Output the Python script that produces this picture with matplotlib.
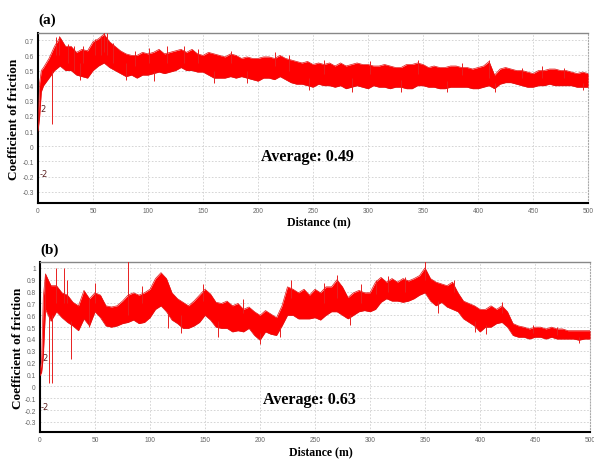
import matplotlib.pyplot as plt
import numpy as np

# Panel (a): band of the friction trace, read every 5 m (upper / lower edge)
dist_a = [0, 1.5, 3] + list(range(5, 501, 5))
upper_a = [0.13, 0.42, 0.50,
           0.52, 0.58, 0.66, 0.72, 0.66, 0.66, 0.62, 0.64, 0.63, 0.69,
           0.71, 0.74, 0.69, 0.66, 0.63, 0.61, 0.60, 0.60, 0.62, 0.61,
           0.62, 0.64, 0.61, 0.62, 0.63, 0.64, 0.62, 0.64, 0.61, 0.60,
           0.62, 0.61, 0.60, 0.59, 0.61, 0.60, 0.58, 0.59, 0.58, 0.58,
           0.59, 0.59, 0.58, 0.60, 0.58, 0.57, 0.56, 0.55, 0.56, 0.54,
           0.55, 0.54, 0.55, 0.53, 0.55, 0.53, 0.54, 0.55, 0.54, 0.54,
           0.53, 0.53, 0.54, 0.53, 0.52, 0.52, 0.54, 0.54, 0.55, 0.54,
           0.52, 0.53, 0.52, 0.52, 0.53, 0.53, 0.52, 0.52, 0.51, 0.52,
           0.53, 0.56, 0.47, 0.51, 0.52, 0.51, 0.50, 0.50, 0.49, 0.48,
           0.50, 0.50, 0.51, 0.51, 0.50, 0.50, 0.49, 0.48, 0.49, 0.48]
lower_a = [0.10, 0.20, 0.36,
           0.40, 0.45, 0.50, 0.53, 0.50, 0.50, 0.47, 0.46, 0.45, 0.50,
           0.53, 0.55, 0.52, 0.50, 0.48, 0.46, 0.47, 0.45, 0.47, 0.47,
           0.48, 0.49, 0.48, 0.49, 0.50, 0.52, 0.50, 0.50, 0.49, 0.49,
           0.47, 0.45, 0.45, 0.45, 0.46, 0.45, 0.46, 0.45, 0.44, 0.43,
           0.45, 0.45, 0.44, 0.46, 0.44, 0.42, 0.41, 0.41, 0.40, 0.39,
           0.41, 0.40, 0.40, 0.39, 0.40, 0.38, 0.39, 0.40, 0.39, 0.38,
           0.40, 0.39, 0.39, 0.38, 0.39, 0.39, 0.38, 0.38, 0.40, 0.40,
           0.39, 0.39, 0.38, 0.38, 0.39, 0.39, 0.39, 0.39, 0.38, 0.38,
           0.39, 0.40, 0.38, 0.41, 0.42, 0.42, 0.41, 0.40, 0.39, 0.39,
           0.40, 0.40, 0.41, 0.40, 0.40, 0.40, 0.40, 0.39, 0.39, 0.39]
# short spikes poking out of the band (distance, low end, high end)
spike_d_a = [12.5, 16, 19, 27, 33, 38.5, 40.5, 52, 57, 60, 63, 68, 80, 88,
             101, 105, 117, 133, 145, 160, 175, 190, 215, 228, 246, 260,
             285, 302, 330, 345, 372, 385, 410, 415, 440, 458, 478, 495]
spike_lo_a = [0.15, 0.60, 0.60, 0.55, 0.50, 0.44, 0.55, 0.60, 0.60, 0.62,
              0.60, 0.55, 0.44, 0.53, 0.55, 0.43, 0.55, 0.55, 0.55, 0.42,
              0.55, 0.42, 0.53, 0.50, 0.37, 0.48, 0.36, 0.48, 0.36, 0.48,
              0.36, 0.47, 0.45, 0.36, 0.45, 0.45, 0.45, 0.37]
spike_hi_a = [0.50, 0.72, 0.73, 0.675, 0.66, 0.55, 0.66, 0.71, 0.73, 0.76,
              0.75, 0.68, 0.55, 0.63, 0.65, 0.50, 0.66, 0.66, 0.64, 0.50,
              0.63, 0.50, 0.62, 0.60, 0.45, 0.57, 0.45, 0.56, 0.44, 0.57,
              0.43, 0.55, 0.57, 0.42, 0.52, 0.53, 0.52, 0.42]

# Panel (b)
dist_b = [0, 1.5, 3] + list(range(5, 501, 5))
upper_b = [0.12, 0.22, 0.75,
           0.95, 0.85, 0.85, 0.79, 0.77, 0.71, 0.68, 0.81, 0.74, 0.79,
           0.77, 0.68, 0.67, 0.68, 0.72, 0.77, 0.79, 0.77, 0.79, 0.82,
           0.91, 0.96, 0.91, 0.79, 0.74, 0.71, 0.68, 0.72, 0.77, 0.82,
           0.78, 0.71, 0.70, 0.72, 0.68, 0.70, 0.65, 0.67, 0.63, 0.60,
           0.64, 0.61, 0.58, 0.68, 0.84, 0.82, 0.79, 0.82, 0.77, 0.82,
           0.79, 0.84, 0.84, 0.90, 0.84, 0.75, 0.79, 0.81, 0.79, 0.79,
           0.88, 0.92, 0.88, 0.91, 0.88, 0.91, 0.89, 0.91, 0.935, 1.00,
           0.91, 0.88, 0.865, 0.85, 0.88, 0.79, 0.72, 0.70, 0.68, 0.65,
           0.65, 0.68, 0.65, 0.68, 0.63, 0.53, 0.51, 0.50, 0.485, 0.50,
           0.50, 0.485, 0.50, 0.485, 0.485, 0.47, 0.47, 0.47, 0.47, 0.47]
lower_b = [0.09, 0.12, 0.25,
           0.65, 0.55, 0.63, 0.58, 0.54, 0.51, 0.47, 0.57, 0.51, 0.63,
           0.58, 0.51, 0.50, 0.51, 0.53, 0.54, 0.56, 0.53, 0.54, 0.58,
           0.65, 0.68, 0.63, 0.56, 0.53, 0.49, 0.49, 0.51, 0.54, 0.60,
           0.56, 0.50, 0.49, 0.49, 0.46, 0.47, 0.46, 0.49, 0.43, 0.39,
           0.46, 0.44, 0.43, 0.51, 0.60, 0.60, 0.57, 0.57, 0.57, 0.58,
           0.56, 0.60, 0.63, 0.63, 0.60, 0.57, 0.60, 0.63, 0.64, 0.63,
           0.65, 0.71, 0.74, 0.72, 0.72, 0.71, 0.72, 0.74, 0.77, 0.79,
           0.72, 0.68, 0.71, 0.67, 0.65, 0.63, 0.57, 0.54, 0.51, 0.46,
           0.50, 0.50, 0.53, 0.54, 0.50, 0.43, 0.415, 0.415, 0.40, 0.415,
           0.415, 0.40, 0.415, 0.40, 0.40, 0.40, 0.40, 0.39, 0.40, 0.40]
spike_d_b = [4.5, 8.5, 10.6, 14.5, 22, 25, 28, 45, 50, 80, 93, 116, 128,
             148, 162, 185, 200, 218, 228, 258, 270, 282, 292, 305, 316,
             332, 350, 362, 376, 395, 405, 420, 448, 470, 490]
spike_lo_b = [0.60, 0.03, 0.03, 0.70, 0.70, 0.70, 0.23, 0.50, 0.70, 0.60,
              0.70, 0.49, 0.45, 0.72, 0.42, 0.62, 0.36, 0.42, 0.75, 0.70,
              0.75, 0.52, 0.70, 0.78, 0.80, 0.80, 0.90, 0.62, 0.80, 0.46,
              0.44, 0.62, 0.45, 0.43, 0.37]
spike_hi_b = [0.95, 0.60, 0.60, 1.00, 1.00, 0.90, 0.55, 0.75, 0.87, 1.06,
              0.85, 0.62, 0.60, 0.86, 0.55, 0.74, 0.45, 0.50, 0.90, 0.87,
              0.94, 0.60, 0.86, 0.90, 0.93, 0.92, 1.06, 0.72, 0.90, 0.55,
              0.52, 0.71, 0.52, 0.50, 0.42]

panels = [
    dict(label="(a)", d=dist_a, hi=upper_a, lo=lower_a,
         sd=spike_d_a, slo=spike_lo_a, shi=spike_hi_a,
         yticks=[0.7, 0.6, 0.5, 0.4, 0.3, 0.2, 0.1, 0, -0.1, -0.2, -0.3],
         ylim=(-0.375, 0.748), avg="Average: 0.49", avg_y=-0.063,
         rect=[0.064, 0.5565, 0.926, 0.3696], y2=(0.25, -0.18),
         ylab_x=-0.044, xlab_y=-0.106, title_y=1.082),
    dict(label="(b)", d=dist_b, hi=upper_b, lo=lower_b,
         sd=spike_d_b, slo=spike_lo_b, shi=spike_hi_b,
         yticks=[1, 0.9, 0.8, 0.7, 0.6, 0.5, 0.4, 0.3, 0.2, 0.1, 0, -0.1, -0.2, -0.3],
         ylim=(-0.385, 1.05), avg="Average: 0.63", avg_y=-0.105,
         rect=[0.0673, 0.0587, 0.926, 0.3696], y2=(0.24, -0.17),
         ylab_x=-0.040, xlab_y=-0.112, title_y=1.076),
]
xticks = list(range(0, 501, 50))

fig = plt.figure(figsize=(5.94, 4.6), dpi=100)
serif = ['Liberation Serif', 'DejaVu Serif']

for p in panels:
    ax = fig.add_axes(p["rect"])
    ax.fill_between(p["d"], p["lo"], p["hi"], color='#ff0000', lw=0, zorder=3)
    ax.plot(p["d"], p["hi"], color='#e01414', lw=0.5, zorder=3)
    ax.plot(p["d"], p["lo"], color='#e01414', lw=0.5, zorder=3)
    ax.vlines(p["sd"], p["slo"], p["shi"], color='#e82020', lw=0.7, zorder=3)

    ax.set_xlim(0, 500)
    ax.set_ylim(*p["ylim"])
    ax.set_xticks(xticks)
    ax.set_yticks(p["yticks"])
    ax.set_xticklabels([str(t) for t in xticks])
    ax.set_yticklabels(['%g' % t for t in p["yticks"]])
    ax.tick_params(length=0, labelsize=4.8, colors='#666666', pad=3)
    for t in ax.get_xticklabels() + ax.get_yticklabels():
        t.set_family('Liberation Sans')
    ax.grid(True, color='#cfcfcf', lw=0.6, linestyle=(0, (2, 2)), zorder=0)

    ax.spines['left'].set_linewidth(1.5)
    ax.spines['bottom'].set_linewidth(1.5)
    ax.spines['top'].set_color('#888888')
    ax.spines['top'].set_linewidth(1.0)
    ax.spines['right'].set_color('#aaaaaa')
    ax.spines['right'].set_linestyle(':')

    ax.set_ylabel("Coefficient of friction", family=serif, fontweight='bold',
                  fontsize=9.5, va='center')
    ax.yaxis.set_label_coords(p["ylab_x"], 0.5)
    ax.set_xlabel("Distance (m)", family=serif, fontweight='bold',
                  fontsize=8.5, va='center')
    ax.xaxis.set_label_coords(0.51, p["xlab_y"])
    ax.text(245, p["avg_y"], p["avg"], family=serif, fontweight='bold',
            fontsize=11.5, ha='center', va='center', zorder=4)
    ax.text(0.0, p["title_y"], p["label"], transform=ax.transAxes, family=serif,
            fontweight='bold', fontsize=11, ha='left', va='center')
    # stray markers next to the axis
    ax.text(2, p["y2"][0], "2", fontsize=6, color='#5a2020', ha='left', va='center')
    ax.text(1, p["y2"][1], "-2", fontsize=6, color='#5a2020', ha='left', va='center')

fig.savefig("out.png", dpi=100)
